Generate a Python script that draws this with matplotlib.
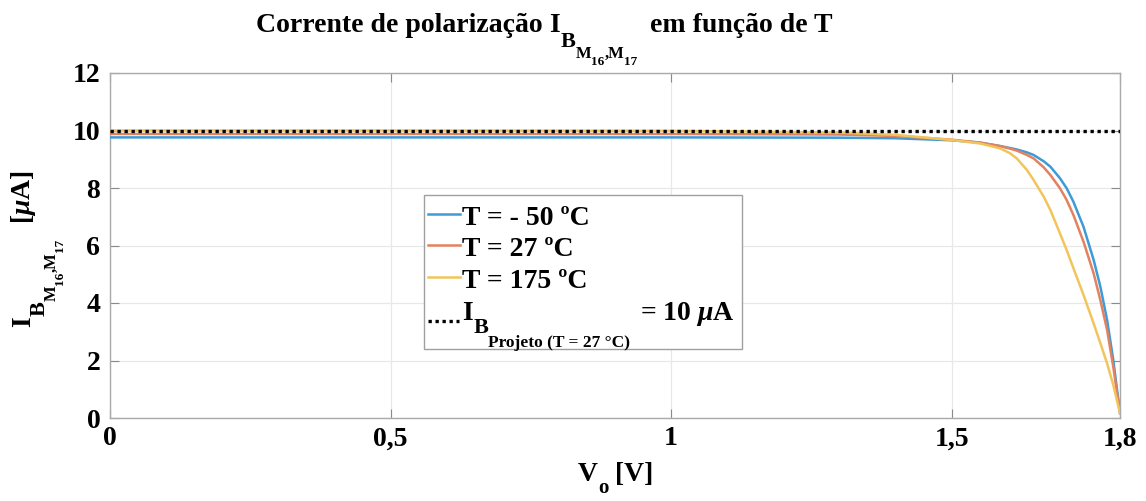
import matplotlib
matplotlib.use("Agg")
import matplotlib.pyplot as plt
from matplotlib.lines import Line2D
from matplotlib.patches import Rectangle
from matplotlib.ticker import FixedLocator

plt.rcParams["font.family"] = ["Liberation Serif", "DejaVu Serif"]
plt.rcParams["font.weight"] = "bold"
plt.rcParams["mathtext.fontset"] = "custom"
plt.rcParams["mathtext.rm"] = "Liberation Serif:bold"
plt.rcParams["mathtext.bf"] = "Liberation Serif:bold"
plt.rcParams["mathtext.it"] = "Liberation Serif:italic:bold"

# Output voltage (V)
v_o = [0.0, 0.5, 1.0, 1.3, 1.4, 1.5, 1.55, 1.586, 1.604, 1.616, 1.634, 1.646,
       1.664, 1.676, 1.693, 1.705, 1.717, 1.735, 1.753, 1.765, 1.777, 1.788, 1.8]

# Bias current of M16/M17 (uA) at each temperature
i_b_m50 = [9.76, 9.76, 9.76, 9.75, 9.73, 9.66, 9.58, 9.46, 9.39, 9.34, 9.24,
           9.15, 8.93, 8.74, 8.34, 7.99, 7.52, 6.65, 5.50, 4.57, 3.41, 2.02, 0.17]
i_b_27 = [9.88, 9.88, 9.88, 9.86, 9.81, 9.68, 9.58, 9.46, 9.37, 9.30, 9.15,
          9.03, 8.72, 8.45, 7.99, 7.58, 7.06, 6.13, 5.03, 4.10, 3.06, 1.78, 0.17]
i_b_175 = [10.0, 10.0, 9.99, 9.93, 9.85, 9.67, 9.55, 9.38, 9.21, 9.03, 8.63,
           8.28, 7.70, 7.23, 6.42, 5.84, 5.21, 4.28, 3.29, 2.60, 1.90, 1.15, 0.17]

# Design target current (uA)
i_b_design = 10.0

series_labels = ["T = - 50 ºC", "T = 27 ºC", "T = 175 ºC"]

x_ticks = [0, 0.5, 1, 1.5, 1.8]
x_tick_labels = ["0", "0,5", "1", "1,5", "1,8"]
y_ticks = [0, 2, 4, 6, 8, 10, 12]

W, H = 1146, 501
fig = plt.figure(figsize=(W / 100, H / 100), dpi=100)
ax = fig.add_axes([110 / W, 1 - 418 / H, 1010 / W, 345 / H])
renderer = fig.canvas.get_renderer()

colors = ["#3f9ad8", "#e2825e", "#f1c55c"]
curve_lw = 1.8
for vals, col in zip([i_b_m50, i_b_27, i_b_175], colors):
    ax.plot(v_o, vals, color=col, lw=curve_lw, zorder=3)

dot_style = dict(color="black", lw=2.4, linestyle=(0, (1, 1.1)))
ax.axhline(i_b_design, zorder=4, **dot_style)

ax.set_xlim(0, 1.8)
ax.set_ylim(0, 12)
ax.xaxis.set_major_locator(FixedLocator(x_ticks))
ax.set_xticklabels(x_tick_labels)
ax.yaxis.set_major_locator(FixedLocator(y_ticks))
ax.tick_params(axis="both", direction="in", top=True, right=True, length=6.5,
               width=0.8, color="#8a8a8a", labelsize=20)
ax.tick_params(axis="y", pad=7)
ax.tick_params(axis="x", pad=6)
for lbl in ax.get_xticklabels() + ax.get_yticklabels():
    lbl.set_fontweight("bold")
ax.grid(True, color="#e8e8e8", lw=0.9)
ax.set_axisbelow(True)
for sp in ax.spines.values():
    sp.set_color("#aaaaaa")
    sp.set_linewidth(1.0)


def put_runs(x, y, pieces, rotation=0):
    """Write text runs (text, size, baseline drop, gap) from pixel (x, y)."""
    adv = 0.0
    for text, size, drop, gap in pieces:
        adv += gap
        if rotation == 0:
            px, py = x + adv, y + drop
        else:
            px, py = x + drop, y - adv
        t = fig.text(px / W, 1 - py / H, text, fontsize=size, fontweight="bold",
                     ha="left", va="baseline", rotation=rotation,
                     rotation_mode="anchor", zorder=6)
        bb = t.get_window_extent(renderer)
        adv += bb.width if rotation == 0 else bb.height
    return adv


# Subscript chain I_{B_{M16,M17}}
def ib_chain(big=20):
    return [("I", big, 0, 0), ("B", 16, 15, 0.5), ("M", 12, 26, 0),
            ("16", 9.5, 33, 0), (",M", 12, 26, 0), ("17", 9.5, 33, 0)]


# Title
put_runs(256, 32, [("Corrente de polarização ", 20, 0, 0)] + ib_chain()
         + [("em função de T", 20, 0, 12)])

# Y label (rotated)
put_runs(30, 327, ib_chain() + [(r"[$\mu$A]", 20, 0, 15)], rotation=90)

# X label
put_runs(578, 481, [("V", 20, 0, 0), ("o", 15, 12, 0), ("[V]", 20, 0, 7)])

# Legend
frame = Rectangle((424 / W, 1 - 349 / H), 318 / W, 154 / H,
                  transform=fig.transFigure, facecolor="white",
                  edgecolor="#a0a0a0", lw=1.0, zorder=5)
fig.add_artist(frame)
baselines = [225, 256.5, 288]
for lab, col, yb in zip(series_labels, colors, baselines):
    fig.add_artist(Line2D([428 / W, 460 / W], [1 - (yb - 11) / H] * 2,
                          transform=fig.transFigure, color=col, lw=curve_lw,
                          zorder=6))
    put_runs(462, yb, [(lab, 20, 0, 0)])

fig.add_artist(Line2D([428 / W, 459 / W], [1 - 321 / H] * 2,
                      transform=fig.transFigure, zorder=6, **dot_style))
put_runs(462, 320, [("I", 20, 0, 0), ("B", 16, 13, 0.5),
                    ("Projeto (T = 27 °C)", 12.5, 27, 0)])
put_runs(640, 320, [(r"= 10 $\mu$A", 20, 0, 0)])

fig.savefig("out.png", dpi=100)
